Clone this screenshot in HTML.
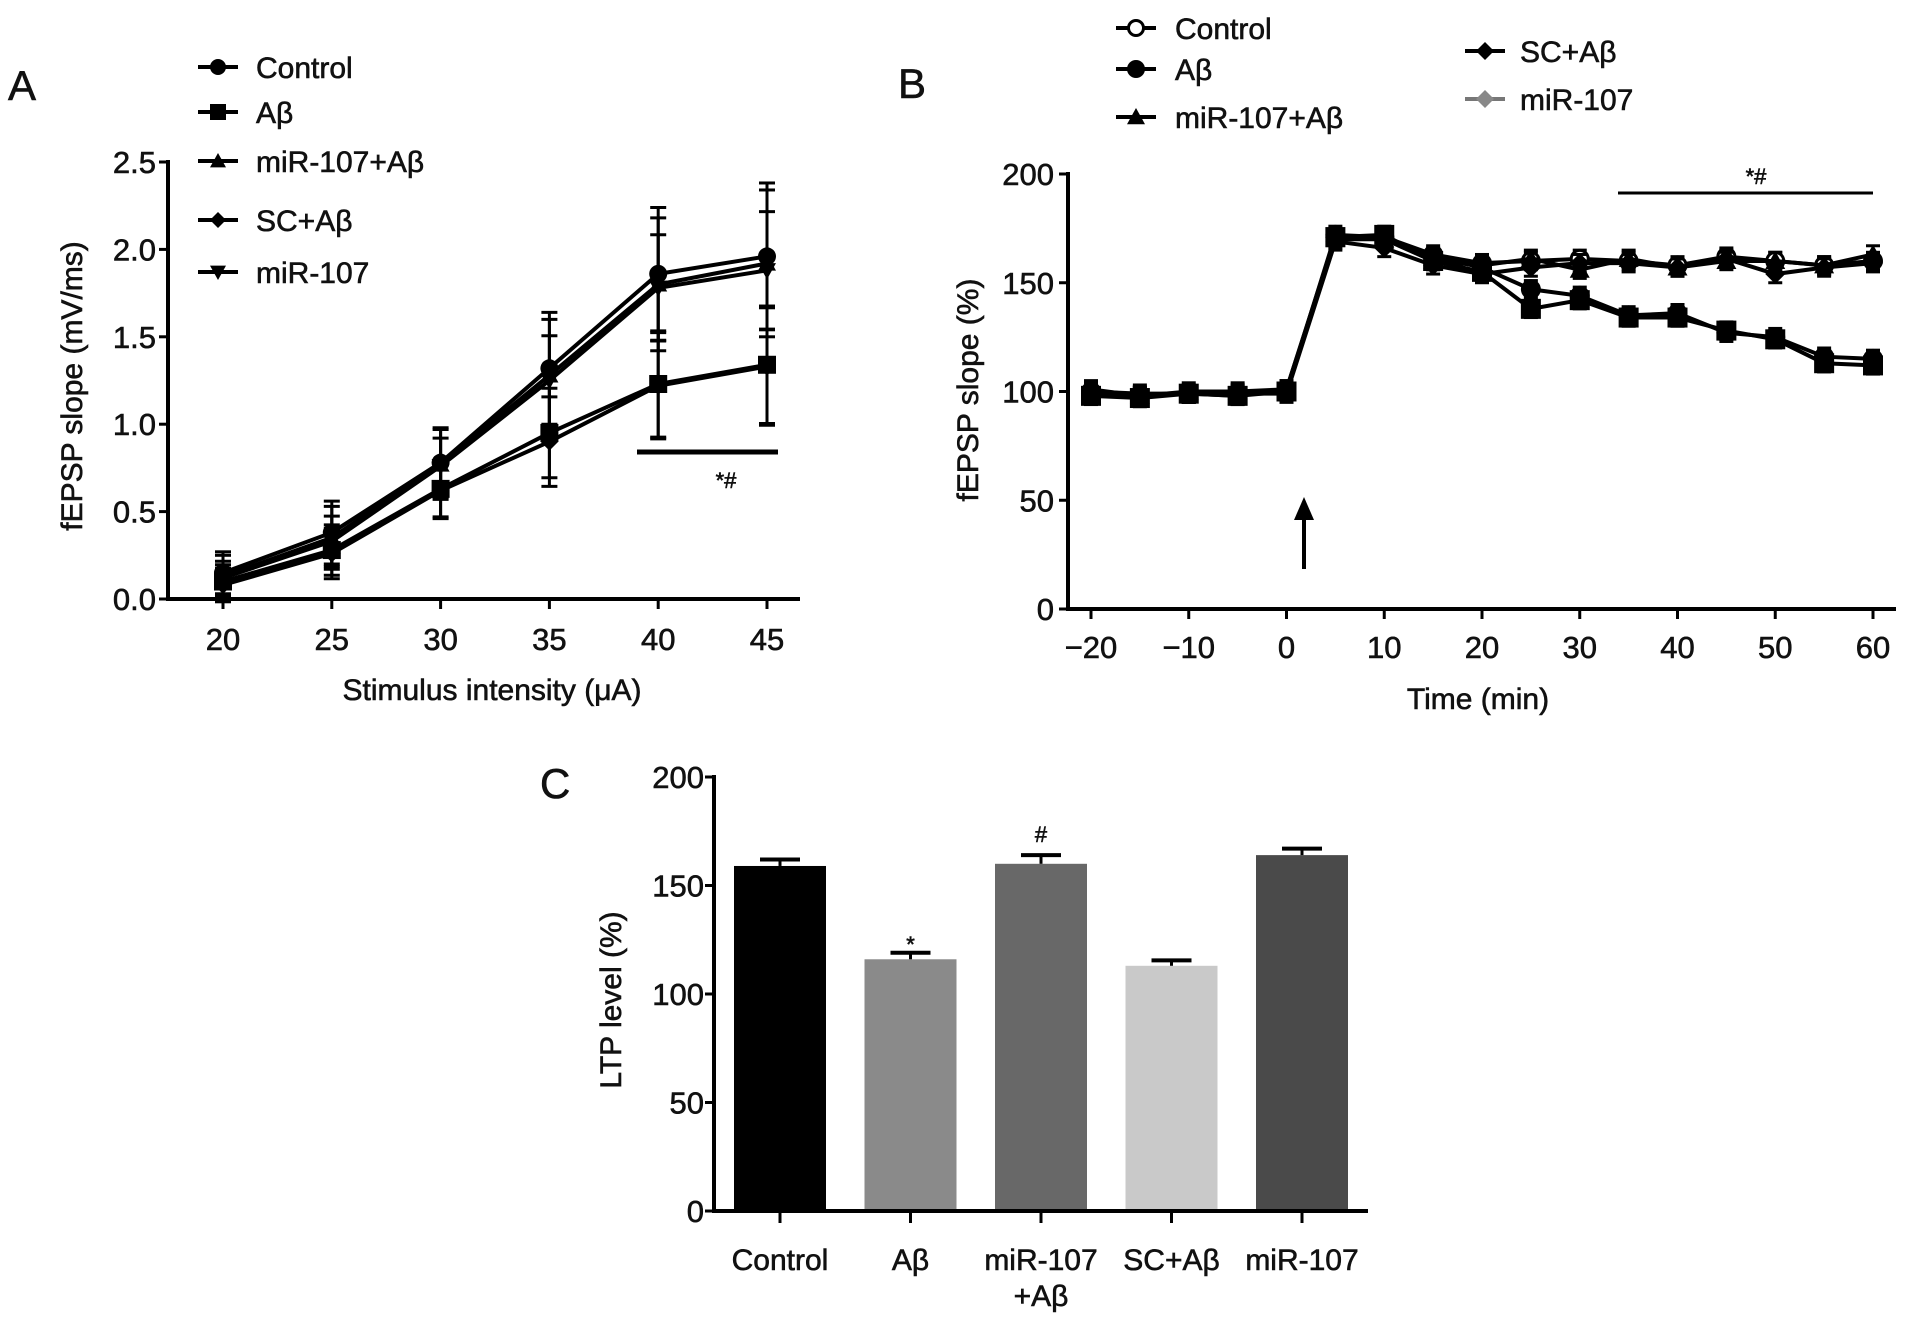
<!DOCTYPE html>
<html><head><meta charset="utf-8">
<style>
html,body{margin:0;padding:0;background:#fff;}
svg{display:block;font-family:"Liberation Sans",Arial,sans-serif;}
text{fill:#111;stroke:#111;stroke-width:0.6px;}
</style></head>
<body>
<svg id="fig" width="1913" height="1323" viewBox="0 0 1913 1323">
<g id="pa"></g>
<g id="pb"></g>
<g id="pc"></g>
</svg>
<script>
// ---------- Panel A data ----------
const aX = [20,25,30,35,40,45];
const aControl = [0.15,0.38,0.78,1.32,1.86,1.96];
const aAbeta = [0.10,0.28,0.63,0.95,1.23,1.34];
const aMirAbeta = [0.13,0.35,0.77,1.28,1.80,1.92];
const aScAbeta = [0.08,0.26,0.62,0.90,1.22,1.33];
const aMir = [0.12,0.33,0.76,1.25,1.78,1.88];
const aErr = [0.12,0.18,0.2,0.32,0.38,0.42];
const aYTicks = ["0.0","0.5","1.0","1.5","2.0","2.5"];
// ---------- Panel B data ----------
const bX = [-20,-15,-10,-5,0,5,10,15,20,25,30,35,40,45,50,55,60];
const bControl = [100,98,99,99,100,172,171,163,159,160,161,160,158,162,160,158,160];
const bAbeta = [99,98,99,98,101,171,171,162,157,147,144,135,136,127,125,116,115];
const bMirAbeta = [101,98,100,100,101,170,170,160,158,161,156,161,157,160,160,158,163];
const bScAbeta = [98,97,99,98,100,171,172,160,155,138,142,134,134,128,124,113,112];
const bMir = [100,99,99,99,99,169,166,158,154,157,159,159,157,161,154,157,159];
const bXTicks = [-20,-10,0,10,20,30,40,50,60];
const bYTicks = [0,50,100,150,200];
// ---------- Panel C data ----------
const cCats = ["Control","Aβ","miR-107|+Aβ","SC+Aβ","miR-107"];
const cVals = [159,116,160,113,164];
const cErr = [3,3,4,2.5,3];
const cYTicks = [0,50,100,150,200];

const NS="http://www.w3.org/2000/svg";
function mk(parent,tag,attrs,txt){const e=document.createElementNS(NS,tag);for(const k in attrs)e.setAttribute(k,attrs[k]);if(txt!==undefined)e.textContent=txt;parent.appendChild(e);return e;}

function marker(g,type,x,y,s){
  let e;
  if(type==="circle"){e=mk(g,"circle",{cx:x,cy:y,r:s,fill:"#000"});}
  else if(type==="ocircle"){e=mk(g,"circle",{cx:x,cy:y,r:s-1.5,fill:"#fff",stroke:"#000","stroke-width":3});}
  else if(type==="square"){e=mk(g,"rect",{x:x-s,y:y-s,width:2*s,height:2*s,fill:"#000"});}
  else if(type==="tri"){e=mk(g,"polygon",{points:`${x},${y-s} ${x+s},${y+s*0.8} ${x-s},${y+s*0.8}`,fill:"#000"});}
  else if(type==="itri"){e=mk(g,"polygon",{points:`${x},${y+s} ${x+s},${y-s*0.8} ${x-s},${y-s*0.8}`,fill:"#000"});}
  else if(type==="diamond"){e=mk(g,"polygon",{points:`${x},${y-s} ${x+s},${y} ${x},${y+s} ${x-s},${y}`,fill:"#000"});}
  else if(type==="gdiamond"){e=mk(g,"polygon",{points:`${x},${y-s} ${x+s},${y} ${x},${y+s} ${x-s},${y}`,fill:"#888"});}
  return e;
}

// ================= Panel A =================
(function(){
  const g=document.getElementById('pa');
  const x0=168,y0=599,yTop=162,xEnd=800;
  const xs=v=>223+(v-20)*(767-223)/25;
  const ys=v=>y0-(v/2.5)*(y0-yTop);
  let t=mk(g,"text",{x:8,y:100,"font-size":42},"A");
  
  mk(g,"line",{x1:x0,y1:yTop-2,x2:x0,y2:y0+2,stroke:"#000","stroke-width":4});
  mk(g,"line",{x1:x0-2,y1:y0,x2:xEnd,y2:y0,stroke:"#000","stroke-width":4});
  aYTicks.forEach(v=>{const y=ys(+v);mk(g,"line",{x1:x0-9,y1:y,x2:x0,y2:y,stroke:"#000","stroke-width":3});
    const tt=mk(g,"text",{x:x0-12,y:y+11,"font-size":31,"text-anchor":"end"},v);
    });
  aX.forEach(v=>{const x=xs(v);mk(g,"line",{x1:x,y1:y0,x2:x,y2:y0+10,stroke:"#000","stroke-width":3});
    const tt=mk(g,"text",{x:x,y:650,"font-size":31,"text-anchor":"middle"},v);
    });
  t=mk(g,"text",{x:492,y:700,"font-size":30,"text-anchor":"middle"},"Stimulus intensity (μA)");
  
  t=mk(g,"text",{x:0,y:0,"font-size":30,"text-anchor":"middle",transform:"translate(82,386) rotate(-90)"},"fEPSP slope (mV/ms)");
  
  const series=[["Control",aControl,"circle"],["Aβ",aAbeta,"square"],["miR-107+Aβ",aMirAbeta,"tri"],["SC+Aβ",aScAbeta,"diamond"],["miR-107",aMir,"itri"]];
  series.forEach(([name,vals,m],si)=>{
    const sg=mk(g,"g",{});
    
    
    vals.forEach((v,i)=>{const x=xs(aX[i]);const e=aErr[i]*(si===0||si===2?1:0.8);
      mk(sg,"line",{x1:x,y1:ys(v-e),x2:x,y2:ys(v+e),stroke:"#000","stroke-width":3});
      mk(sg,"line",{x1:x-8,y1:ys(v+e),x2:x+8,y2:ys(v+e),stroke:"#000","stroke-width":3});
      mk(sg,"line",{x1:x-8,y1:ys(v-e),x2:x+8,y2:ys(v-e),stroke:"#000","stroke-width":3});});
    mk(sg,"polyline",{points:vals.map((v,i)=>xs(aX[i])+","+ys(v)).join(" "),fill:"none",stroke:"#000","stroke-width":4});
    vals.forEach((v,i)=>marker(sg,m,xs(aX[i]),ys(v),9));
  });
  const rows=[67,112,161,220,272];
  series.forEach(([name,,m],i)=>{
    const lg=mk(g,"g",{});
    
    mk(lg,"line",{x1:198,y1:rows[i],x2:238,y2:rows[i],stroke:"#000","stroke-width":4});
    marker(lg,m,218,rows[i],8);
    mk(lg,"text",{x:256,y:rows[i]+11,"font-size":30},name);
  });
  const sb=mk(g,"line",{x1:637,y1:452,x2:778,y2:452,stroke:"#000","stroke-width":5});
  
  t=mk(g,"text",{x:726,y:488,"font-size":22,"text-anchor":"middle"},"*#");
  
})();

// ================= Panel B =================
(function(){
  const g=document.getElementById('pb');
  const x0=1068,y0=609,yTop=174,xEnd=1896;
  const xs=v=>1091+(v+20)*(1873-1091)/80;
  const ys=v=>y0-(v/200)*(y0-yTop);
  let t=mk(g,"text",{x:898,y:98,"font-size":42},"B");
  
  mk(g,"line",{x1:x0,y1:yTop-2,x2:x0,y2:y0+2,stroke:"#000","stroke-width":4});
  mk(g,"line",{x1:x0-2,y1:y0,x2:xEnd,y2:y0,stroke:"#000","stroke-width":4});
  bYTicks.forEach(v=>{const y=ys(v);mk(g,"line",{x1:x0-9,y1:y,x2:x0,y2:y,stroke:"#000","stroke-width":3});
    const tt=mk(g,"text",{x:x0-14,y:y+11,"font-size":31,"text-anchor":"end"},v);
    });
  bXTicks.forEach(v=>{const x=xs(v);mk(g,"line",{x1:x,y1:y0,x2:x,y2:y0+10,stroke:"#000","stroke-width":3});
    const tt=mk(g,"text",{x:x,y:658,"font-size":31,"text-anchor":"middle"},v<0?"\u2212"+(-v):v);
    });
  t=mk(g,"text",{x:1478,y:709,"font-size":30,"text-anchor":"middle"},"Time (min)");
  
  t=mk(g,"text",{x:0,y:0,"font-size":30,"text-anchor":"middle",transform:"translate(978,390) rotate(-90)"},"fEPSP slope (%)");
  
  const series=[["Control",bControl,"ocircle"],["Aβ",bAbeta,"circle"],["miR-107+Aβ",bMirAbeta,"tri"],["SC+Aβ",bScAbeta,"square"],["miR-107",bMir,"diamond"]];
  series.forEach(([name,vals,m])=>{
    const sg=mk(g,"g",{});
    
    
    vals.forEach((v,i)=>{const x=xs(bX[i]);const e=4;
      mk(sg,"line",{x1:x,y1:ys(v-e),x2:x,y2:ys(v+e),stroke:"#000","stroke-width":3});
      mk(sg,"line",{x1:x-7,y1:ys(v+e),x2:x+7,y2:ys(v+e),stroke:"#000","stroke-width":3});
      mk(sg,"line",{x1:x-7,y1:ys(v-e),x2:x+7,y2:ys(v-e),stroke:"#000","stroke-width":3});});
    mk(sg,"polyline",{points:vals.map((v,i)=>xs(bX[i])+","+ys(v)).join(" "),fill:"none",stroke:"#000","stroke-width":4});
    vals.forEach((v,i)=>marker(sg,m,xs(bX[i]),ys(v),10));
  });
  const leg=[["Control","ocircle",1136,1175,28,"#000"],["Aβ","circle",1136,1175,69,"#000"],["miR-107+Aβ","tri",1136,1175,117,"#000"],["SC+Aβ","diamond",1485,1520,51,"#000"],["miR-107","gdiamond",1485,1520,99,"#777"]];
  leg.forEach(([name,m,mx,tx,y,c])=>{
    const lg=mk(g,"g",{});
    
    mk(lg,"line",{x1:mx-20,y1:y,x2:mx+20,y2:y,stroke:c,"stroke-width":4});
    marker(lg,m,mx,y,9);
    mk(lg,"text",{x:tx,y:y+11,"font-size":30},name);
  });
  const sb=mk(g,"line",{x1:1618,y1:193,x2:1873,y2:193,stroke:"#000","stroke-width":3});
  
  t=mk(g,"text",{x:1756,y:184,"font-size":22,"text-anchor":"middle"},"*#");
  
  const ar=mk(g,"g",{});
  
  mk(ar,"line",{x1:1304,y1:569,x2:1304,y2:515,stroke:"#000","stroke-width":4});
  mk(ar,"polygon",{points:"1304,497 1294,520 1314,520",fill:"#000"});
})();

// ================= Panel C =================
(function(){
  const g=document.getElementById('pc');
  const x0=714,y0=1211,yTop=777,xEnd=1368;
  const ys=v=>y0-(v/200)*(y0-yTop);
  const xc=i=>780+i*130.5;
  const bw=92;
  const colors=["#000","#8a8a8a","#686868","#c9c9c9","#4a4a4a"];
  let t=mk(g,"text",{x:540,y:798,"font-size":42},"C");
  
  cVals.forEach((v,i)=>{
    const b=mk(g,"rect",{x:xc(i)-bw/2,y:ys(v),width:bw,height:y0-ys(v),fill:colors[i]});
    
    
    const e=cErr[i];
    mk(g,"line",{x1:xc(i),y1:ys(v),x2:xc(i),y2:ys(v+e),stroke:"#000","stroke-width":3});
    mk(g,"line",{x1:xc(i)-20,y1:ys(v+e),x2:xc(i)+20,y2:ys(v+e),stroke:"#000","stroke-width":4});
  });
  mk(g,"line",{x1:x0,y1:yTop-2,x2:x0,y2:y0+2,stroke:"#000","stroke-width":4});
  mk(g,"line",{x1:x0-2,y1:y0,x2:xEnd,y2:y0,stroke:"#000","stroke-width":4});
  cYTicks.forEach(v=>{const y=ys(v);mk(g,"line",{x1:x0-9,y1:y,x2:x0,y2:y,stroke:"#000","stroke-width":3});
    const tt=mk(g,"text",{x:x0-10,y:y+11,"font-size":31,"text-anchor":"end"},v);
    });
  cCats.forEach((c,i)=>{const x=xc(i);mk(g,"line",{x1:x,y1:y0,x2:x,y2:y0+12,stroke:"#000","stroke-width":3});
    c.split("|").forEach((ln,j)=>{const tt=mk(g,"text",{x:x,y:1270+j*36,"font-size":30,"text-anchor":"middle"},ln);
      });});
  t=mk(g,"text",{x:0,y:0,"font-size":30,"text-anchor":"middle",transform:"translate(621,1000) rotate(-90)"},"LTP level (%)");
  
  t=mk(g,"text",{x:xc(1),y:952,"font-size":22,"text-anchor":"middle"},"*");
  
  t=mk(g,"text",{x:xc(2),y:842,"font-size":22,"text-anchor":"middle"},"#");
  
})();
</script>
</body></html>
